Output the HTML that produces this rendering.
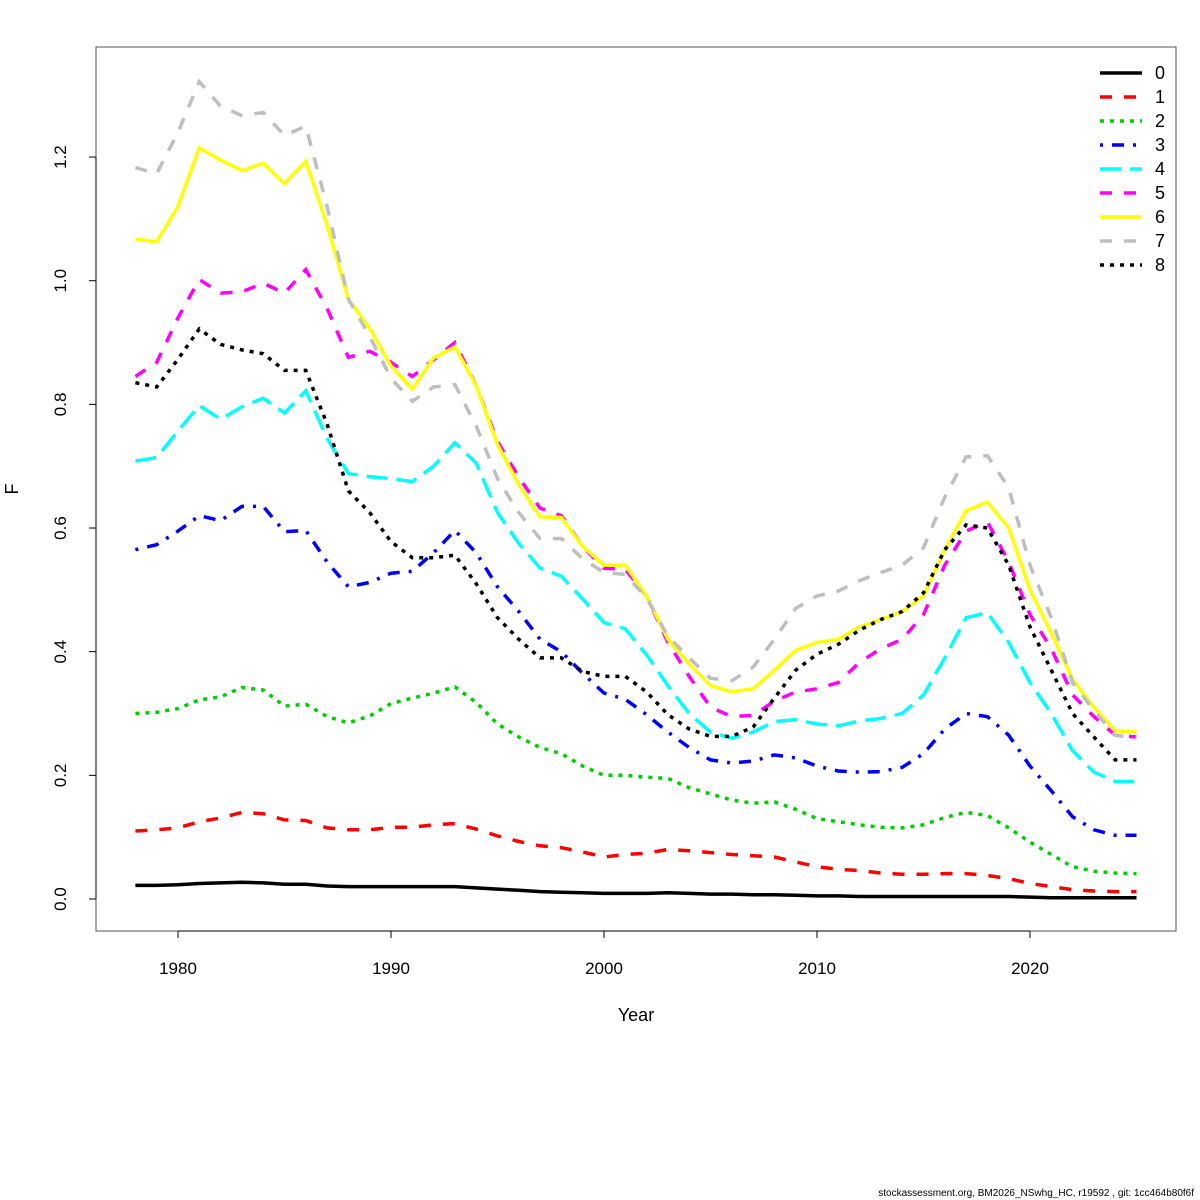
<!DOCTYPE html>
<html><head><meta charset="utf-8"><style>
html,body{margin:0;padding:0;background:#fff;}
svg{display:block;font-family:"Liberation Sans",sans-serif;}
</style></head><body>
<svg id="chart" width="1200" height="1200">
<rect x="96" y="47" width="1080" height="884" fill="none" stroke="#555" stroke-width="1"/>
<g id="axes"></g>
<g id="series"></g>
<g id="legend"></g>
<text x="636" y="1021" text-anchor="middle" font-size="18">Year</text>
<text x="18" y="489" text-anchor="middle" font-size="18" transform="rotate(-90 18 489)">F</text>
<text x="1194" y="1196" text-anchor="end" font-size="10">stockassessment.org, BM2026_NSwhg_HC, r19592 , git: 1cc464b80f6f</text>
</svg>
<script>
const years=[];for(let y=1978;y<=2025;y++)years.push(y);
const xTicks=[1980,1990,2000,2010,2020];
const yTicks=[0,0.2,0.4,0.6,0.8,1.0,1.2];
const yTickLabels=["0.0","0.2","0.4","0.6","0.8","1.0","1.2"];
const seriesNames=["0","1","2","3","4","5","6","7","8"];
const f0=[0.022,0.022,0.023,0.025,0.026,0.027,0.026,0.024,0.024,0.021,0.020,0.020,0.020,0.020,0.020,0.020,0.018,0.016,0.014,0.012,0.011,0.010,0.009,0.009,0.009,0.010,0.009,0.008,0.008,0.007,0.007,0.006,0.005,0.005,0.004,0.004,0.004,0.004,0.004,0.004,0.004,0.004,0.003,0.002,0.002,0.002,0.002,0.002];
const f1=[0.11,0.112,0.115,0.125,0.131,0.14,0.138,0.128,0.127,0.115,0.112,0.112,0.116,0.116,0.12,0.122,0.113,0.102,0.093,0.086,0.083,0.076,0.068,0.072,0.074,0.08,0.078,0.075,0.072,0.07,0.068,0.06,0.052,0.048,0.046,0.042,0.04,0.04,0.041,0.041,0.038,0.033,0.025,0.02,0.015,0.013,0.012,0.012];
const f2=[0.300,0.302,0.308,0.322,0.327,0.342,0.338,0.312,0.315,0.295,0.285,0.296,0.316,0.325,0.333,0.343,0.318,0.283,0.262,0.245,0.235,0.215,0.2,0.2,0.197,0.195,0.18,0.17,0.16,0.155,0.157,0.145,0.13,0.125,0.12,0.116,0.115,0.12,0.132,0.14,0.135,0.115,0.092,0.072,0.052,0.045,0.042,0.041];
const f3=[0.565,0.573,0.595,0.62,0.612,0.635,0.635,0.594,0.596,0.545,0.505,0.512,0.527,0.53,0.56,0.596,0.56,0.505,0.465,0.42,0.4,0.365,0.333,0.323,0.298,0.27,0.245,0.225,0.22,0.223,0.233,0.228,0.215,0.207,0.205,0.206,0.213,0.235,0.275,0.3,0.295,0.265,0.215,0.175,0.133,0.112,0.103,0.103];
const f4=[0.708,0.714,0.757,0.798,0.776,0.796,0.81,0.786,0.822,0.745,0.688,0.683,0.68,0.675,0.7,0.738,0.705,0.625,0.575,0.535,0.522,0.485,0.447,0.437,0.395,0.345,0.3,0.27,0.26,0.27,0.287,0.29,0.283,0.28,0.288,0.292,0.3,0.33,0.39,0.455,0.463,0.415,0.35,0.3,0.24,0.205,0.19,0.19];
const f5=[0.845,0.868,0.94,1.002,0.98,0.982,0.996,0.98,1.018,0.955,0.876,0.886,0.868,0.845,0.872,0.9,0.83,0.74,0.682,0.632,0.62,0.57,0.535,0.533,0.49,0.415,0.36,0.31,0.295,0.297,0.32,0.335,0.34,0.35,0.383,0.405,0.42,0.46,0.54,0.595,0.61,0.545,0.46,0.405,0.33,0.295,0.265,0.262];
const f6=[1.067,1.063,1.12,1.215,1.195,1.178,1.19,1.157,1.193,1.09,0.97,0.923,0.862,0.825,0.875,0.893,0.83,0.735,0.67,0.618,0.617,0.57,0.54,0.54,0.49,0.42,0.38,0.345,0.335,0.34,0.37,0.402,0.415,0.42,0.44,0.452,0.465,0.49,0.565,0.628,0.642,0.6,0.5,0.43,0.355,0.31,0.272,0.27];
const f7=[1.183,1.173,1.24,1.322,1.282,1.267,1.272,1.235,1.25,1.12,0.97,0.91,0.842,0.805,0.828,0.832,0.765,0.68,0.625,0.583,0.583,0.55,0.528,0.525,0.487,0.425,0.39,0.357,0.353,0.375,0.42,0.47,0.49,0.498,0.515,0.528,0.54,0.568,0.65,0.715,0.717,0.665,0.54,0.455,0.35,0.305,0.265,0.26];
const f8=[0.835,0.828,0.873,0.922,0.897,0.888,0.882,0.855,0.855,0.768,0.66,0.625,0.578,0.552,0.552,0.556,0.51,0.455,0.42,0.39,0.39,0.368,0.36,0.36,0.335,0.298,0.275,0.263,0.263,0.278,0.325,0.37,0.396,0.412,0.435,0.452,0.465,0.495,0.565,0.605,0.6,0.54,0.44,0.37,0.3,0.262,0.225,0.225];
const allSeries=[f0,f1,f2,f3,f4,f5,f6,f7,f8];
const colors=["#000","#ff0000","#00cd00","#0000ff","#00ffff","#ff00ff","#ffff00","#bebebe","#000"];
const dashes=["","12,12","4,6","3,9,12,9","21,9","12,12","","12,12","4,6"];
const NS="http://www.w3.org/2000/svg";
const xs=y=>178+(y-1980)*21.3;
const ys=v=>899-v*618.3;
function mk(tag,attrs,parent){const e=document.createElementNS(NS,tag);for(const k in attrs)e.setAttribute(k,attrs[k]);parent.appendChild(e);return e;}
const axes=document.getElementById('axes');
mk('line',{x1:xs(1980),x2:xs(2020),y1:931,y2:931,stroke:'#000'},axes);
xTicks.forEach(t=>{
  const l=mk('line',{x1:xs(t),x2:xs(t),y1:931,y2:938,stroke:'#000'},axes);
  
  
  const tx=mk('text',{x:xs(t),y:974,'text-anchor':'middle','font-size':'17'},axes);tx.textContent=t;
  
  
});
mk('line',{x1:96,x2:96,y1:ys(0),y2:ys(1.2),stroke:'#000'},axes);
yTicks.forEach((t,i)=>{
  const l=mk('line',{x1:89,x2:96,y1:ys(t),y2:ys(t),stroke:'#000'},axes);
  
  
  const tx=mk('text',{x:66,y:ys(t),'text-anchor':'middle','font-size':'17',transform:`rotate(-90 66 ${ys(t)})`},axes);tx.textContent=yTickLabels[i];
  
  
});
const sg=document.getElementById('series');
allSeries.forEach((s,i)=>{
  const pts=s.map((v,j)=>xs(years[j]).toFixed(1)+','+ys(v).toFixed(1)).join(' ');
  const p=mk('polyline',{points:pts,fill:'none',stroke:colors[i],'stroke-width':3.5,'stroke-dasharray':dashes[i]||'none'},sg);
  
  
});
const lg=document.getElementById('legend');
seriesNames.forEach((n,i)=>{
  const y=73+i*24;
  const l=mk('line',{x1:1100,x2:1142,y1:y,y2:y,stroke:colors[i],'stroke-width':3.5,'stroke-dasharray':dashes[i]||'none'},lg);
  
  
  const t=mk('text',{x:1155,y:y+6,'font-size':'18'},lg);t.textContent=n;
  
  
});
</script>
</body></html>
